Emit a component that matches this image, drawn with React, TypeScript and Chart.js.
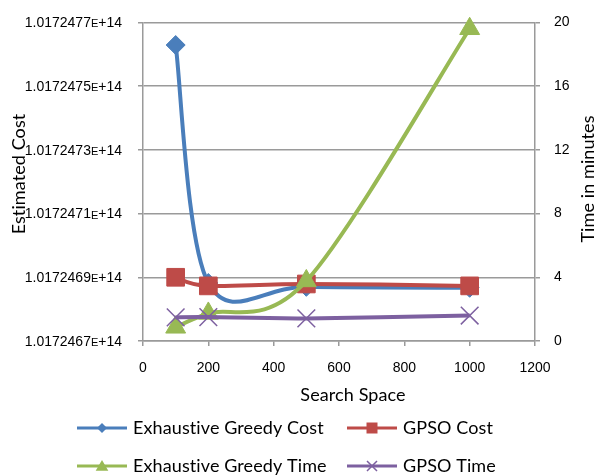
import React, { useEffect, useRef } from 'react';
import { Chart, registerables } from 'chart.js';

Chart.register(...registerables);

// Search space sizes (x values)
const searchSpace = [100, 200, 500, 1000];

// Estimated cost series (left axis)
const exhaustiveGreedyCost = [101724762900000, 101724688200000, 101724687000000, 101724686700000];
const gpsoCost = [101724690000000, 101724687300000, 101724687900000, 101724687300000];

// Time series in minutes (right axis)
const exhaustiveGreedyTime = [0.86, 1.73, 3.77, 19.6];
const gpsoTime = [1.48, 1.5, 1.42, 1.6];

// Axis ranges
const costRange = [101724670000000, 101724770000000];
const costStep = 20000000;
const timeRange = [0, 20];
const timeStep = 4;
const spaceRange = [0, 1200];
const spaceStep = 200;

const seriesNames = ['Exhaustive Greedy Cost', 'GPSO Cost', 'Exhaustive Greedy Time', 'GPSO Time'];
const seriesColors = ['#4A7EBB', '#BE4B48', '#98B954', '#7D60A0'];

const TEXT_FONT = 'Lato, "DejaVu Sans", sans-serif';
const TICK_FONT = '"Liberation Sans", Arial, sans-serif';
const GRID_COLOR = '#9a9a9a';

const W = 597;
const H = 476;

function mantissa(v: number): string {
  return (v / 1e14).toFixed(7);
}

function drawMarker(ctx: CanvasRenderingContext2D, style: string, x: number, y: number, r: number, color: string) {
  ctx.save();
  ctx.fillStyle = color;
  ctx.strokeStyle = color;
  ctx.beginPath();
  if (style === 'rectRot') {
    ctx.moveTo(x, y - r);
    ctx.lineTo(x + r, y);
    ctx.lineTo(x, y + r);
    ctx.lineTo(x - r, y);
    ctx.closePath();
    ctx.fill();
  } else if (style === 'rect') {
    ctx.rect(x - r, y - r, 2 * r, 2 * r);
    ctx.fill();
  } else if (style === 'triangle') {
    ctx.moveTo(x, y - r);
    ctx.lineTo(x + r * 1.05, y + r * 0.8);
    ctx.lineTo(x - r * 1.05, y + r * 0.8);
    ctx.closePath();
    ctx.fill();
  } else {
    ctx.lineWidth = 1.5;
    ctx.moveTo(x - r, y - r);
    ctx.lineTo(x + r, y + r);
    ctx.moveTo(x + r, y - r);
    ctx.lineTo(x - r, y + r);
    ctx.stroke();
  }
  ctx.restore();
}

const pointStyles = ['rectRot', 'rect', 'triangle', 'crossRot'];

// Uniform Catmull-Rom smoothing: control points at ±1/6 of the neighbour chord
const smoothLinePlugin = {
  id: 'smoothLine',
  beforeDatasetDraw(chart: any, args: any) {
    const meta = args.meta;
    const line = meta.dataset;
    if (!line || !line.options || !line.options.tension) return;
    line.updateControlPoints(chart.chartArea, 'x');
    const pts = meta.data;
    for (let i = 0; i < pts.length; i++) {
      const p = pts[i];
      const prev = pts[i - 1] || p;
      const next = pts[i + 1] || p;
      const dx = (next.x - prev.x) / 6;
      const dy = (next.y - prev.y) / 6;
      p.cp1x = p.x - dx;
      p.cp1y = p.y - dy;
      p.cp2x = p.x + dx;
      p.cp2y = p.y + dy;
    }
  },
};

const decorPlugin = {
  id: 'decor',
  afterDraw(chart: any) {
    const ctx: CanvasRenderingContext2D = chart.ctx;
    const costScale = chart.scales.cost;

    // Cost tick labels with a small "E" exponent marker
    ctx.save();
    ctx.fillStyle = '#000';
    ctx.textBaseline = 'middle';
    const rightEdge = costScale.right - 21;
    for (const t of costScale.ticks) {
      const y = costScale.getPixelForValue(t.value);
      const m = mantissa(t.value);
      ctx.font = `14px ${TICK_FONT}`;
      const expW = ctx.measureText('+14').width;
      ctx.textAlign = 'right';
      ctx.fillText('+14', rightEdge, y + 1);
      ctx.font = `11px ${TICK_FONT}`;
      const eW = ctx.measureText('E').width;
      ctx.fillText('E', rightEdge - expW, y + 2);
      ctx.font = `14px ${TICK_FONT}`;
      ctx.fillText(m, rightEdge - expW - eW, y + 1);
    }
    ctx.restore();

    // Axis titles
    ctx.save();
    (ctx as any).letterSpacing = '0.1px';
    ctx.fillStyle = '#000';
    ctx.font = `18px ${TEXT_FONT}`;
    ctx.textAlign = 'center';
    ctx.textBaseline = 'middle';
    ctx.fillText('Search Space', 353, 395);
    ctx.save();
    ctx.translate(19, 174);
    ctx.rotate(-Math.PI / 2);
    ctx.fillText('Estimated Cost', 0, 0);
    ctx.restore();
    ctx.save();
    ctx.translate(588, 179);
    ctx.rotate(-Math.PI / 2);
    ctx.fillText('Time in minutes', 0, 0);
    ctx.restore();
    ctx.restore();

    // Legend: two rows of two entries
    const rowsY = [428, 466];
    const colX = [77, 347];
    const markerR = [5, 5.5, 6, 5];
    ctx.save();
    (ctx as any).letterSpacing = '0.1px';
    ctx.font = `18px ${TEXT_FONT}`;
    ctx.textBaseline = 'middle';
    ctx.textAlign = 'left';
    seriesNames.forEach((name, i) => {
      const y = rowsY[Math.floor(i / 2)];
      const x0 = colX[i % 2];
      const color = seriesColors[i];
      ctx.strokeStyle = color;
      ctx.lineWidth = 3;
      ctx.beginPath();
      ctx.moveTo(x0, y);
      ctx.lineTo(x0 + 50, y);
      ctx.stroke();
      drawMarker(ctx, pointStyles[i], x0 + 25, y, markerR[i], color);
      ctx.fillStyle = '#000';
      ctx.fillText(name, x0 + 56, y);
    });
    ctx.restore();
  },
};

function series(values: number[]) {
  return searchSpace.map((x, i) => ({ x, y: values[i] }));
}

export default function App() {
  const canvasRef = useRef<HTMLCanvasElement | null>(null);

  useEffect(() => {
    const canvas = canvasRef.current;
    if (!canvas) return;

    const common = {
      borderWidth: 4,
      tension: 0.5,
      clip: false as const,
      pointHoverRadius: 0,
    };

    const chart = new Chart(canvas, {
      type: 'line',
      data: {
        datasets: [
          {
            ...common,
            label: seriesNames[0],
            data: series(exhaustiveGreedyCost),
            yAxisID: 'cost',
            borderColor: seriesColors[0],
            backgroundColor: seriesColors[0],
            pointStyle: 'rectRot',
            pointRadius: 9.5,
            pointBorderWidth: 1,
            order: 4,
          },
          {
            ...common,
            label: seriesNames[1],
            data: series(gpsoCost),
            yAxisID: 'cost',
            borderColor: seriesColors[1],
            backgroundColor: seriesColors[1],
            pointStyle: 'rect',
            pointRadius: 12.5,
            pointBorderWidth: 1,
            order: 3,
          },
          {
            ...common,
            label: seriesNames[2],
            data: series(exhaustiveGreedyTime),
            yAxisID: 'time',
            borderColor: seriesColors[2],
            backgroundColor: seriesColors[2],
            pointStyle: 'triangle',
            pointRadius: 11.5,
            pointBorderWidth: 1,
            order: 2,
          },
          {
            ...common,
            label: seriesNames[3],
            data: series(gpsoTime),
            yAxisID: 'time',
            borderColor: seriesColors[3],
            backgroundColor: seriesColors[3],
            pointStyle: 'crossRot',
            pointRadius: 12.5,
            pointBorderWidth: 1.5,
            order: 1,
          },
        ],
      },
      options: {
        responsive: false,
        animation: false,
        devicePixelRatio: 1,
        layout: { padding: { top: 17, left: 0, right: 0, bottom: 0 } },
        plugins: {
          legend: { display: false },
          tooltip: { enabled: false },
        },
        scales: {
          x: {
            type: 'linear',
            position: 'bottom',
            min: spaceRange[0],
            max: spaceRange[1],
            ticks: {
              stepSize: spaceStep,
              color: '#000',
              font: { family: TICK_FONT, size: 14 },
              padding: 14,
              maxRotation: 0,
              callback: (v: any) => String(v),
            },
            grid: { drawOnChartArea: false, drawTicks: true, tickLength: 5, color: GRID_COLOR, lineWidth: 1.5 },
            border: { display: true, color: GRID_COLOR, width: 1.5 },
            afterFit: (s: any) => { s.height = H - 341; },
          },
          cost: {
            type: 'linear',
            position: 'left',
            min: costRange[0],
            max: costRange[1],
            ticks: {
              stepSize: costStep,
              display: false,
              callback: (v: any) => mantissa(Number(v)) + 'E+14',
            },
            grid: { drawOnChartArea: true, drawTicks: true, tickLength: 5, color: GRID_COLOR, lineWidth: 1.5 },
            border: { display: true, color: GRID_COLOR, width: 1.5 },
            afterFit: (s: any) => { s.width = 143; },
          },
          time: {
            type: 'linear',
            position: 'right',
            min: timeRange[0],
            max: timeRange[1],
            ticks: {
              stepSize: timeStep,
              color: '#000',
              font: { family: TICK_FONT, size: 14 },
              padding: 14,
            },
            grid: { drawOnChartArea: false, drawTicks: true, tickLength: 5, color: GRID_COLOR, lineWidth: 1.5 },
            border: { display: true, color: GRID_COLOR, width: 1.5 },
            afterFit: (s: any) => { s.width = W - 535; },
          },
        },
      },
      plugins: [smoothLinePlugin, decorPlugin],
    });

    return () => chart.destroy();
  }, []);

  return (
    <div style={{ position: 'fixed', left: 0, top: 0, width: W, height: H, background: '#fff' }}>
      <canvas ref={canvasRef} width={W} height={H} style={{ display: 'block' }} />
    </div>
  );
}
